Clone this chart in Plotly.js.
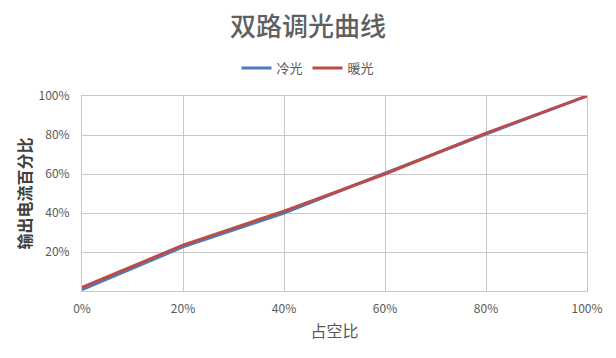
<!DOCTYPE html>
<html><head><meta charset="utf-8">
<script src="https://cdn.plot.ly/plotly-3.0.1.min.js"></script>
<style>html,body{margin:0;padding:0;background:#fff}</style>
</head><body>
<div id="chart" style="width:616px;height:358px"></div>
<script>
const duty = [0, 0.2, 0.4, 0.6, 0.8, 1.0];
const cold = [0.007, 0.226, 0.400, 0.605, 0.805, 1.0];
const warm = [0.018, 0.235, 0.410, 0.600, 0.810, 1.0];
const xTicks = [0, 0.2, 0.4, 0.6, 0.8, 1.0];
const xTickText = ['0%', '20%', '40%', '60%', '80%', '100%'];
const yTicks = [0.2, 0.4, 0.6, 0.8, 1.0];
const yTickText = ['20%', '40%', '60%', '80%', '100%'];
const font = 'Noto Sans CJK SC, sans-serif';
const traces = [
  {x: duty, y: cold, name: '冷光', mode: 'lines', line: {color: '#4a7ebb', width: 3}},
  {x: duty, y: warm, name: '暖光', mode: 'lines', line: {color: '#be4b48', width: 3}}
];
const layout = {
  width: 616, height: 358,
  margin: {l: 82, r: 29, t: 96, b: 67},
  paper_bgcolor: '#fff', plot_bgcolor: '#fff',
  font: {family: font, color: '#595959', size: 12},
  title: {text: '双路调光曲线', font: {family: font, size: 26, color: '#5f5f5f', weight: 500}, x: 0.5, xanchor: 'center', y: 0.925, yanchor: 'middle'},
  showlegend: true,
  legend: {orientation: 'h', x: 0.4475, xanchor: 'center', y: 1.143, yanchor: 'middle', font: {family: font, size: 13, color: '#595959'}, itemwidth: 30},
  xaxis: {range: [0, 1], tickvals: xTicks, ticktext: xTickText, showgrid: true, gridcolor: '#c8c8c8', gridwidth: 1,
    zeroline: false, showline: true, linecolor: '#c8c8c8', mirror: true, ticks: '', ticklen: 0, ticklabelstandoff: 7,
    tickfont: {family: font, size: 12, color: '#595959'},
    title: {text: '占空比', font: {family: font, size: 16, color: '#595959'}, standoff: 10}},
  yaxis: {range: [0, 1], tickvals: yTicks, ticktext: yTickText, showgrid: true, gridcolor: '#c8c8c8', gridwidth: 1,
    zeroline: false, showline: true, linecolor: '#c8c8c8', mirror: true, ticks: '', ticklabelstandoff: 9,
    tickfont: {family: font, size: 12, color: '#595959'},
    title: {text: '输出电流百分比', font: {family: font, size: 16, color: '#404040', weight: 'bold'}, standoff: 2}}
};
Plotly.newPlot('chart', traces, layout, {displayModeBar: false, staticPlot: true});
</script>
</body></html>
